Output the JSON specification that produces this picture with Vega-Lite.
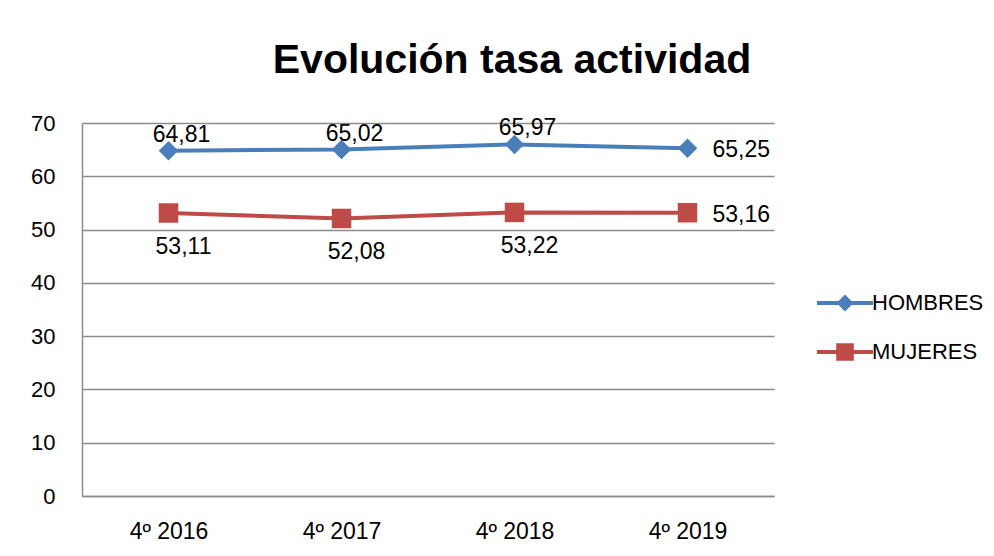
{
  "$schema": "https://vega.github.io/schema/vega-lite/v6.json",
  "width": 692,
  "height": 373,
  "autosize": {"type": "none"},
  "padding": {"left": 82, "top": 123, "right": 220, "bottom": 60},
  "background": "white",
  "title": {
    "text": "Evolución tasa actividad",
    "font": "Liberation Sans",
    "fontSize": 41,
    "fontWeight": "bold",
    "color": "black",
    "anchor": "middle",
    "dx": 84,
    "offset": 30
  },
  "config": {
    "locale": {"number": {"decimal": ",", "thousands": ".", "grouping": [3], "currency": ["", " €"]}},
    "view": {"stroke": null},
    "font": "Liberation Sans"
  },
  "data": {
    "values": [
      {"periodo": "4º 2016", "serie": "HOMBRES", "tasa": 64.81},
      {"periodo": "4º 2017", "serie": "HOMBRES", "tasa": 65.02},
      {"periodo": "4º 2018", "serie": "HOMBRES", "tasa": 65.97},
      {"periodo": "4º 2019", "serie": "HOMBRES", "tasa": 65.25},
      {"periodo": "4º 2016", "serie": "MUJERES", "tasa": 53.11},
      {"periodo": "4º 2017", "serie": "MUJERES", "tasa": 52.08},
      {"periodo": "4º 2018", "serie": "MUJERES", "tasa": 53.22},
      {"periodo": "4º 2019", "serie": "MUJERES", "tasa": 53.16}
    ]
  },
  "encoding": {
    "x": {
      "field": "periodo",
      "type": "nominal",
      "sort": null,
      "scale": {"type": "point", "padding": 0.5},
      "axis": {
        "title": null,
        "labelAngle": 0,
        "labelFont": "Liberation Sans",
        "labelFontSize": 23,
        "labelColor": "black",
        "labelPadding": 24,
        "ticks": false,
        "grid": false,
        "domainColor": "#8c8c8c",
        "domainWidth": 1.5
      }
    },
    "y": {
      "field": "tasa",
      "type": "quantitative",
      "scale": {"domain": [0, 70], "nice": false},
      "axis": {
        "title": null,
        "values": [0, 10, 20, 30, 40, 50, 60, 70],
        "labelFont": "Liberation Sans",
        "labelFontSize": 22,
        "labelColor": "black",
        "labelPadding": 27,
        "ticks": false,
        "grid": true,
        "gridColor": "#8c8c8c",
        "gridWidth": 1.5,
        "domainColor": "#8c8c8c",
        "domainWidth": 1.5
      }
    },
    "color": {
      "field": "serie",
      "type": "nominal",
      "scale": {"domain": ["HOMBRES", "MUJERES"], "range": ["#4A7EBB", "#BE4B48"]},
      "legend": {
        "orient": "none",
        "legendX": 752,
        "legendY": 169,
        "title": null,
        "padding": 0,
        "symbolSize": 256,
        "labelOffset": 16,
        "rowPadding": 27,
        "labelFont": "Liberation Sans",
        "labelFontSize": 22,
        "labelColor": "black",
        "symbolType": {"expr": "datum.value === 'HOMBRES' ? 'M-3.5,-0.25L3.5,-0.25L3.5,0.25L-3.5,0.25Z M0,-1.05L1.05,0L0,1.05L-1.05,0Z' : 'M-3.5,-0.25L3.5,-0.25L3.5,0.25L-3.5,0.25Z M-1.1,-1.1L1.1,-1.1L1.1,1.1L-1.1,1.1Z'"},
        "encode": {
          "symbols": {
            "update": {
              "shape": {"signal": "datum.value === 'HOMBRES' ? 'M-3.5,-0.25L3.5,-0.25L3.5,0.25L-3.5,0.25Z M0,-1.05L1.05,0L0,1.05L-1.05,0Z' : 'M-3.5,-0.25L3.5,-0.25L3.5,0.25L-3.5,0.25Z M-1.1,-1.1L1.1,-1.1L1.1,1.1L-1.1,1.1Z'"},
              "fill": {"signal": "datum.value === 'HOMBRES' ? '#4A7EBB' : '#BE4B48'"},
              "stroke": {"value": "transparent"},
              "strokeWidth": {"value": 0},
              "opacity": {"value": 1}
            }
          }
        }
      }
    }
  },
  "layer": [
    {
      "mark": {"type": "line", "strokeWidth": 4}
    },
    {
      "transform": [{"filter": "datum.serie === 'HOMBRES'"}],
      "mark": {"type": "point", "filled": true, "opacity": 1, "size": 380, "shape": "diamond"}
    },
    {
      "transform": [{"filter": "datum.serie === 'MUJERES'"}],
      "mark": {"type": "point", "filled": true, "opacity": 1, "size": 380, "shape": "square"}
    },
    {
      "transform": [{"filter": "datum.serie === 'HOMBRES' && datum.periodo !== '4º 2019'"}],
      "mark": {"type": "text", "align": "center", "baseline": "middle", "dx": 13, "dy": -16, "fontSize": 23, "font": "Liberation Sans"},
      "encoding": {"text": {"field": "tasa", "type": "quantitative", "format": ".2f"}, "color": {"value": "black"}}
    },
    {
      "transform": [{"filter": "datum.serie === 'MUJERES' && datum.periodo !== '4º 2019'"}],
      "mark": {"type": "text", "align": "center", "baseline": "middle", "dx": 15, "dy": 34, "fontSize": 23, "font": "Liberation Sans"},
      "encoding": {"text": {"field": "tasa", "type": "quantitative", "format": ".2f"}, "color": {"value": "black"}}
    },
    {
      "transform": [{"filter": "datum.periodo === '4º 2019'"}],
      "mark": {"type": "text", "align": "left", "baseline": "middle", "dx": 25, "dy": 2, "fontSize": 23, "font": "Liberation Sans"},
      "encoding": {"text": {"field": "tasa", "type": "quantitative", "format": ".2f"}, "color": {"value": "black"}}
    }
  ]
}
